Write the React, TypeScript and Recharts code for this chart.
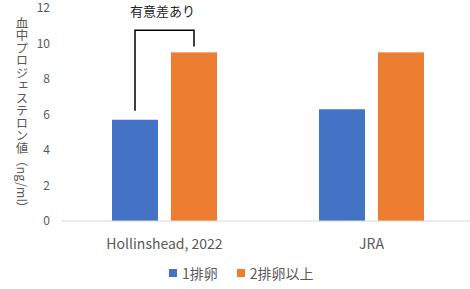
import { BarChart, Bar, XAxis, YAxis, Legend } from 'recharts';

const studies = ['Hollinshead, 2022', 'JRA'];
const oneOvulation = [5.7, 6.3];
const twoPlusOvulation = [9.5, 9.5];
const seriesNames = ['1排卵', '2排卵以上'];
const yTicks = [0, 2, 4, 6, 8, 10, 12];
const yLabel = '血中プロジェステロン値（ng/ml）';

// significance bracket between the two bars of one study
const sigStudy = 'Hollinshead, 2022';
const sigLabel = '有意差あり';
const bracketLevel = 10.75;

const data = studies.map((s, i) => ({
  study: s,
  one: oneOvulation[i],
  twoPlus: twoPlusOvulation[i],
}));

const BLUE = '#4472C4';
const ORANGE = '#ED7D31';
const GRAY = '#595959';
const FONT = '"Noto Sans CJK JP", "Noto Sans", sans-serif';
const BAR_GAP = 13;

function OrangeBar(props: any) {
  const { x, y, width, height, payload, value } = props;
  const rect = <rect x={x} y={y} width={width} height={height} fill={ORANGE} />;
  if (payload.study !== sigStudy) return rect;
  const k = height / value;
  const base = y + height;
  const yOf = (v: number) => base - v * k;
  const rightX = x + width / 2;
  const leftX = rightX - width - BAR_GAP;
  const top = yOf(bracketLevel);
  const leftBottom = yOf(payload.one) - 9;
  const rightBottom = y - 6;
  return (
    <g>
      {rect}
      <path
        d={`M${leftX},${leftBottom} L${leftX},${top} L${rightX},${top} L${rightX},${rightBottom}`}
        fill="none"
        stroke="#000"
        strokeWidth={1.5}
      />
      <text
        x={(leftX + rightX) / 2 - 2}
        y={top - 20}
        textAnchor="middle"
        dominantBaseline="central"
        fontSize={13}
        fill="#222"
        fontFamily={FONT}
      >
        {sigLabel}
      </text>
    </g>
  );
}

function YLabel(props: any) {
  const { viewBox } = props;
  const cy = viewBox.y + viewBox.height / 2 + 1;
  return (
    <text
      x={22}
      y={cy}
      textAnchor="middle"
      fontSize={12.5}
      fill={GRAY}
      fontFamily={FONT}
      style={{ writingMode: 'vertical-rl' }}
    >
      {yLabel}
    </text>
  );
}

function LegendContent() {
  const colors = [BLUE, ORANGE];
  return (
    <div style={{ display: 'flex', alignItems: 'center', fontFamily: FONT, fontSize: 14, color: GRAY }}>
      {seriesNames.map((n, i) => (
        <div key={n} style={{ display: 'flex', alignItems: 'center', marginRight: 19 }}>
          <span style={{ display: 'inline-block', width: 8, height: 8, background: colors[i], marginRight: 5 }} />
          <span>{n}</span>
        </div>
      ))}
    </div>
  );
}

export default function App() {
  return (
    <div style={{ position: 'absolute', left: 0, top: 0, width: 470, height: 289, overflow: 'hidden', background: '#fff' }}>
      <BarChart
        width={480}
        height={289}
        data={data}
        margin={{ top: 8, right: 5, left: 0, bottom: 18 }}
        barGap={BAR_GAP}
        barSize={46}
      >
        <XAxis
          dataKey="study"
          tickLine={false}
          axisLine={{ stroke: '#D9D9D9', strokeWidth: 1 }}
          tick={{ fill: GRAY, fontSize: 14, fontFamily: FONT }}
          tickMargin={12}
          height={30}
        />
        <YAxis
          domain={[0, 12]}
          ticks={yTicks}
          width={61}
          axisLine={false}
          tickLine={false}
          tickSize={0}
          tickMargin={11}
          tick={{ fill: GRAY, fontSize: 12, fontFamily: FONT }}
          label={<YLabel />}
        />
        <Legend
          content={<LegendContent />}
          wrapperStyle={{ position: 'absolute', left: 169, top: 263, width: 'auto' }}
        />
        <Bar dataKey="one" name={seriesNames[0]} fill={BLUE} isAnimationActive={false} />
        <Bar dataKey="twoPlus" name={seriesNames[1]} fill={ORANGE} shape={<OrangeBar />} isAnimationActive={false} />
      </BarChart>
    </div>
  );
}
